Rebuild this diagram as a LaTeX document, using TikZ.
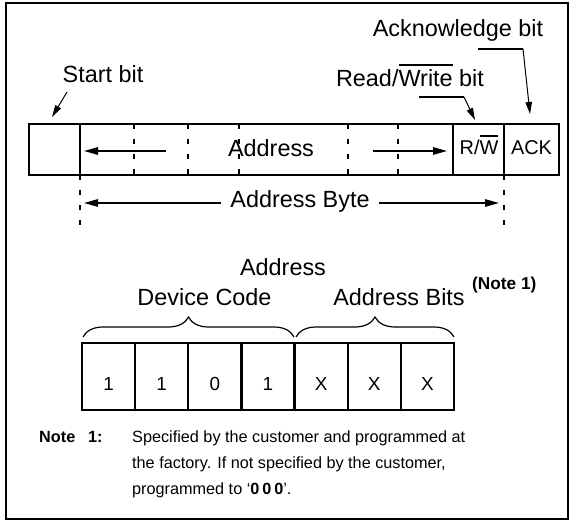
\documentclass[tikz,border=0pt]{standalone}
\usepackage{fontspec}
\setmainfont{Liberation Sans}
\newfontfamily\codefont[LetterSpace=18]{Liberation Sans}
\usetikzlibrary{arrows.meta,decorations.pathreplacing,calc}
\newlength\ovlw
\newcommand\ovr[1]{\settowidth\ovlw{#1}\rlap{\rule[0.9em]{\ovlw}{0.085em}}#1}
\begin{document}
\begin{tikzpicture}[x=1bp,y=-1bp,
  lbl/.style={inner sep=0pt, anchor=base, font=\fontsize{23.5}{27}\selectfont},
  celltxt/.style={inner sep=0pt, anchor=base, font=\fontsize{20}{24}\selectfont},
  bittxt/.style={inner sep=0pt, anchor=base, font=\fontsize{19}{23}\selectfont},
  notetxt/.style={inner sep=0pt, anchor=base west, font=\fontsize{16.3}{20}\selectfont},
  frame/.style={line width=2.6bp},
  box/.style={line width=2.4bp},
  divider/.style={line width=1.8bp},
  dashdiv/.style={line width=1.8bp, dash pattern=on 5bp off 10bp},
  arr/.style={-{Triangle[length=14bp,width=7.5bp]}, line width=1.3bp},
  ptr/.style={-{Triangle[length=12bp,width=6.5bp]}, line width=1bp},
  leader/.style={line width=2.6bp},
  bracestyle/.style={line width=1.2bp, decorate, decoration={brace, amplitude=20bp, aspect=0.5}},
]
\useasboundingbox (0,0) rectangle (576,523);
\draw[frame] (6,3) rectangle (568,519);

% ---- labels above the address byte
\node[lbl] (ackl) at (458,37) {Acknowledge bit};
\node[lbl] (rwl) at (410,87) {Read/\ovr{Write} bit};
\node[lbl] (startl) at (103,83) {Start bit};

% ---- address byte box
\coordinate (tl) at (29,124);
\coordinate (br) at (559,175);
\draw[box] (tl) rectangle (br);
\draw[divider] (80,124) -- (80,175);
\draw[divider] (453,124) -- (453,175);
\draw[divider] (504,124) -- (504,175);
\foreach \x in {134,188,239,348,398}
  \draw[dashdiv] (\x,124) -- (\x,175);
\draw[dashdiv] (80,175) -- (80,227);
\draw[dashdiv] (504,175) -- (504,227);

\node[lbl] (addr) at (271,157) {Address};
\node[celltxt] (rw) at (479,155) {R/\ovr{W}};
\node[celltxt] (ack) at (531.5,155) {ACK};

\coordinate (al0) at (166,151);
\coordinate (al1) at (84,151);
\coordinate (ar0) at (373,151);
\coordinate (ar1) at (447,151);
\draw[arr] (al0) -- (al1);
\draw[arr] (ar0) -- (ar1);

% ---- pointers
\coordinate (s0) at (67,92);
\coordinate (s1) at (52,117);
\draw[ptr] (s0) -- (s1);
\coordinate (rw0) at (419,97);
\coordinate (rw1) at (464,97);
\coordinate (rw2) at (475,120);
\draw[leader] (rw0) -- (rw1);
\draw[ptr] (rw1) -- (rw2);
\coordinate (ak0) at (478,49);
\coordinate (ak1) at (523,49);
\coordinate (ak2) at (530,114);
\draw[leader] (ak0) -- (ak1);
\draw[ptr] (ak1) -- (ak2);

% ---- Address Byte span
\node[lbl] (abyte) at (300,208) {Address Byte};
\coordinate (bl) at (84,203);
\coordinate (bR) at (499,203);
\draw[arr] ($(abyte.west |- bl)+(-9,0)$) -- (bl);
\draw[arr] ($(abyte.east |- bR)+(9,0)$) -- (bR);

% ---- lower diagram
\node[lbl] (addr2) at (283,275) {Address};
\node[lbl] (dev) at (204.5,305) {Device Code};
\node[lbl] (abits) at (399,305) {Address Bits};
\node[inner sep=0pt, anchor=base west, font=\fontsize{17.3}{20}\selectfont\bfseries] (note1ref) at (472,289) {(Note 1)};

\draw[bracestyle] (83,337) -- (294,337);
\draw[bracestyle] (296,337) -- (454,337);

\draw[box] (82,343) rectangle (454,410);
\foreach \i in {1,...,6}
  \draw[box] ({82+\i*372/7},343) -- ({82+\i*372/7},410);
\foreach \v [count=\i from 0] in {1,1,0,1,X,X,X}
  \node[bittxt] (b\i) at ({82+(\i+0.5)*372/7},390) {\v};

% ---- note
\node[notetxt, font=\fontsize{16.3}{20}\selectfont\bfseries] (notek) at (39,442) {Note};
\node[notetxt, font=\fontsize{16.3}{20}\selectfont\bfseries] (noten) at (88,442) {1:};
\node[notetxt] (na) at (132,442) {Specified by the customer and programmed at};
\node[notetxt] (nb) at (132,468) {the factory. If not specified by the customer,};
\node[notetxt] (nc) at (132,494) {programmed to `{\codefont\bfseries 000}'.};
\end{tikzpicture}
\end{document}
